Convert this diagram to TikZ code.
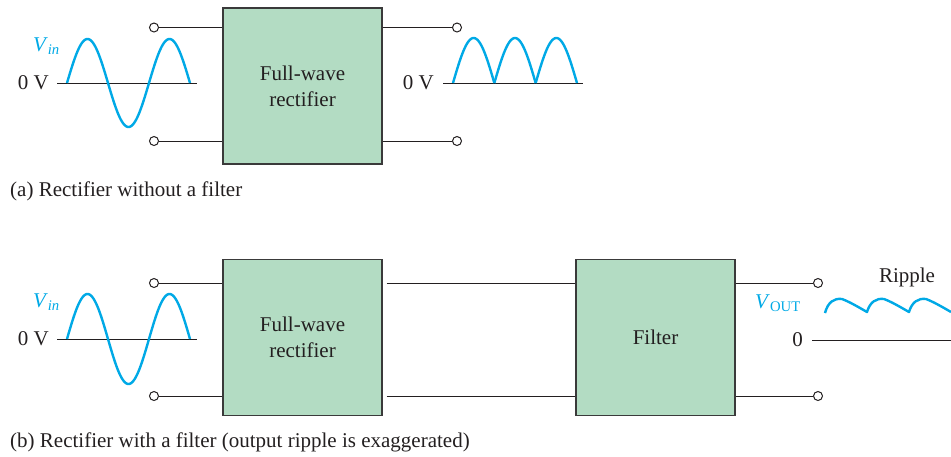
\documentclass[tikz,border=0pt]{standalone}
\usepackage{fontspec}
\setmainfont{Liberation Serif}
\definecolor{txt}{HTML}{231F20}
\definecolor{wave}{HTML}{00A9E6}
\definecolor{boxfill}{HTML}{B3DCC3}
\definecolor{boxline}{HTML}{3A3A3A}
\tikzset{
  blk/.style={draw=boxline, fill=boxfill, line width=1.1pt, minimum width=159pt, minimum height=156pt, inner sep=0pt, align=center, text=txt, font=\fontsize{21}{26}\selectfont},
  term/.style={circle, draw=txt, fill=white, line width=1pt, minimum size=9pt, inner sep=0pt},
  wire/.style={draw=txt, line width=1pt},
  wv/.style={draw=wave, line width=2.4pt},
  lbl/.style={text=txt, font=\fontsize{21}{25}\selectfont, inner sep=0pt},
  vlbl/.style={text=wave, font=\fontsize{21}{25}\selectfont, inner sep=0pt}
}
\begin{document}
\begin{tikzpicture}[x=1pt,y=-1pt]
\useasboundingbox (0,0) rectangle (951,456);
% ---------- (a) ----------
\node[blk] (r1) at (302.5,86) {Full-wave\\rectifier};
\node[term] (a1) at (154,27.5) {};
\node[term] (a2) at (154,141) {};
\node[term] (a3) at (457,27.5) {};
\node[term] (a4) at (457,141) {};
\draw[wire] (a1.east) -- (r1.west |- a1);
\draw[wire] (a2.east) -- (r1.west |- a2);
\draw[wire] (r1.east |- a3) -- (a3.west);
\draw[wire] (r1.east |- a4) -- (a4.west);
% input axis and sine
\coordinate (ax1s) at (57,83);
\coordinate (ax1e) at (197,83);
\draw[wire] (ax1s) -- (ax1e);
\node[lbl, anchor=east] (z1) at (49,83) {0 V};
\draw[wv] plot[domain=0:123, samples=120, smooth] ({67+\x},{83-44*sin(\x/82*360)});
\node[vlbl, anchor=east] (vin1) at (60,46) {\textit{V}\textsubscript{\textit{in}}};
% output axis and rectified wave
\coordinate (ax2s) at (443,83);
\coordinate (ax2e) at (583,83);
\draw[wire] (ax2s) -- (ax2e);
\node[lbl, anchor=east] (z2) at (434,83) {0 V};
\foreach \k in {0,1,2}{
  \draw[wv, line join=miter] plot[domain=0:41.33, samples=40, smooth] ({453+41.33*\k+\x},{83-45*sin(\x/41.33*180)});
}
\node[lbl, anchor=west] (capa) at (10,191) {(a) Rectifier without a filter};
% ---------- (b) ----------
\node[blk] (r2) at (302.5,337.5) {Full-wave\\rectifier};
\node[blk] (flt) at (655.5,337.5) {Filter};
\node[term] (b1) at (154,283) {};
\node[term] (b2) at (154,396) {};
\node[term] (b3) at (818,283) {};
\node[term] (b4) at (818,396) {};
\draw[wire] (b1.east) -- (r2.west |- b1);
\draw[wire] (b2.east) -- (r2.west |- b2);
\draw[wire] ([xshift=4pt]r2.east |- b1) -- (flt.west |- b1);
\draw[wire] ([xshift=4pt]r2.east |- b2) -- (flt.west |- b2);
\draw[wire] (flt.east |- b3) -- (b3.west);
\draw[wire] (flt.east |- b4) -- (b4.west);
\coordinate (ax3s) at (57,339);
\coordinate (ax3e) at (197,339);
\draw[wire] (ax3s) -- (ax3e);
\node[lbl, anchor=east] (z3) at (49,339) {0 V};
\draw[wv] plot[domain=0:123, samples=120, smooth] ({67+\x},{339-45*sin(\x/82*360)});
\node[vlbl, anchor=east] (vin2) at (60,302) {\textit{V}\textsubscript{\textit{in}}};
% output
\coordinate (ax4s) at (812,340);
\coordinate (ax4e) at (951,340);
\draw[wire] (ax4s) -- (ax4e);
\node[lbl, anchor=east] (z4) at (803,340) {0};
\node[vlbl, anchor=east] (vout) at (801,303) {\textit{V}\textsubscript{OUT}};
\node[lbl] (rip) at (907,277) {Ripple};
\draw[wv, line join=round] (825,313)
  .. controls (828,302) and (834,298) .. (842,299)
  .. controls (850,302) and (860,308) .. (867,312)
  .. controls (870,302) and (876,298) .. (884,299)
  .. controls (892,302) and (902,308) .. (909,312)
  .. controls (912,302) and (918,298) .. (926,299)
  .. controls (934,302) and (944,308) .. (951,312);
\node[lbl, anchor=west] (capb) at (10,442) {(b) Rectifier with a filter (output ripple is exaggerated)};
\end{tikzpicture}
\end{document}
